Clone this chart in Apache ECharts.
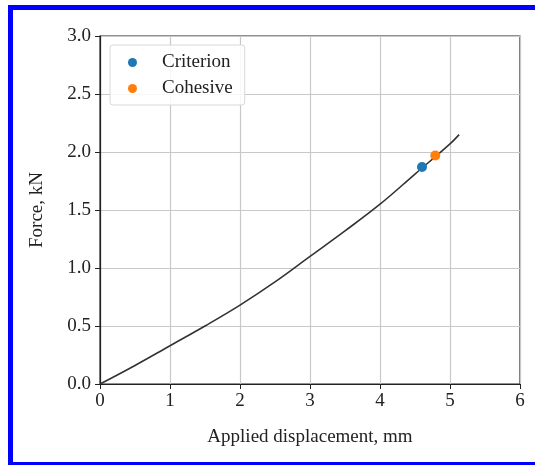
<!DOCTYPE html>
<html>
<head>
<meta charset="utf-8">
<script src="https://cdn.jsdelivr.net/npm/echarts@6/dist/echarts.min.js"></script>
<style>
  html, body { margin: 0; padding: 0; background: #fff; }
  #main { width: 535px; height: 465px; }
</style>
</head>
<body>
<div id="main"></div>
<script>
// force-displacement curve
var dispValues = [0, 0.5, 1, 1.5, 2, 2.5, 3, 3.5, 4, 4.5, 5, 5.13];
var forceValues = [0, 0.16, 0.33, 0.5, 0.68, 0.88, 1.10, 1.32, 1.55, 1.81, 2.07, 2.15];
var criterionPoint = [4.6, 1.87];
var cohesivePoint = [4.79, 1.97];
var xTicks = [0, 6, 1];
var yTicks = [0, 3, 0.5];

var curveData = [];
for (var i = 0; i < dispValues.length; i++) {
    curveData.push([dispValues[i], forceValues[i]]);
}

var serif = "Liberation Serif";
var chart = echarts.init(document.getElementById("main"));
chart.setOption({
    animation: false,
    backgroundColor: "#fff",
    grid: {
        left: 100, right: 15, top: 36, bottom: 81,
        show: true, borderColor: "#222", borderWidth: 1.2
    },
    xAxis: {
        type: "value",
        min: xTicks[0], max: xTicks[1], interval: xTicks[2],
        name: "Applied displacement, mm",
        nameLocation: "middle", nameGap: 44,
        nameTextStyle: { fontFamily: serif, fontSize: 19, color: "#222" },
        axisLine: { show: true, lineStyle: { color: "#222", width: 1.2 } },
        axisTick: { show: true, inside: false, length: 5, lineStyle: { color: "#222" } },
        axisLabel: { fontFamily: serif, fontSize: 19, color: "#222", margin: 8 },
        splitLine: { show: true, lineStyle: { color: "#c8c8c8", width: 1.2 } }
    },
    yAxis: {
        type: "value",
        min: yTicks[0], max: yTicks[1], interval: yTicks[2],
        name: "Force, kN",
        nameLocation: "middle", nameGap: 53,
        nameTextStyle: { fontFamily: serif, fontSize: 19, color: "#222" },
        axisLine: { show: true, lineStyle: { color: "#222", width: 1.2 } },
        axisTick: { show: true, inside: false, length: 5, lineStyle: { color: "#222" } },
        axisLabel: {
            fontFamily: serif, fontSize: 19, color: "#222", margin: 9,
            formatter: function (v) { return v.toFixed(1); }
        },
        splitLine: { show: true, lineStyle: { color: "#c8c8c8", width: 1.2 } }
    },
    legend: {
        left: 110, top: 45,
        orient: "vertical",
        data: ["Criterion", "Cohesive"],
        icon: "circle",
        itemWidth: 9, itemHeight: 9, itemGap: 7,
        padding: [8, 12, 7, 18],
        backgroundColor: "rgba(255,255,255,0.85)",
        borderColor: "#d8d8d8", borderWidth: 1, borderRadius: 3,
        textStyle: { fontFamily: serif, fontSize: 19, color: "#222", padding: [0, 0, 0, 20] }
    },
    graphic: [
        { type: "rect", shape: { x: 8, y: 5, width: 5, height: 460 }, style: { fill: "#0000ff" }, z: 100 },
        { type: "rect", shape: { x: 8, y: 5, width: 527, height: 5 }, style: { fill: "#0000ff" }, z: 100 },
        { type: "rect", shape: { x: 8, y: 462, width: 527, height: 3 }, style: { fill: "#0000ff" }, z: 100 }
    ],
    series: [
        {
            name: "curve",
            type: "line",
            data: curveData,
            smooth: 0.4,
            showSymbol: false,
            lineStyle: { color: "#333", width: 1.6 },
            z: 2
        },
        {
            name: "Criterion",
            type: "scatter",
            data: [criterionPoint],
            symbolSize: 10,
            itemStyle: { color: "#1f77b4", opacity: 1 },
            z: 3
        },
        {
            name: "Cohesive",
            type: "scatter",
            data: [cohesivePoint],
            symbolSize: 10,
            itemStyle: { color: "#ff7f0e", opacity: 1 },
            z: 3
        }
    ]
});
</script>
</body>
</html>
